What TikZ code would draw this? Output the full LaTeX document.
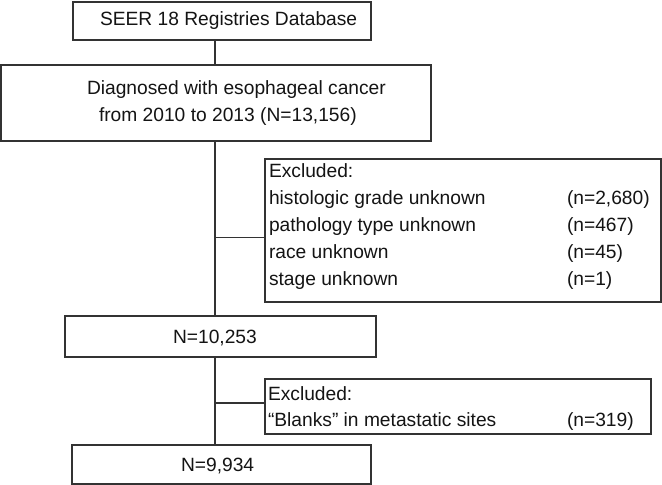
\documentclass[tikz,border=0pt]{standalone}
\usepackage{fontspec}
\setmainfont{Liberation Sans}
\definecolor{edge}{HTML}{333333}
\definecolor{ink}{HTML}{141414}
\begin{document}
\begin{tikzpicture}[x=1pt,y=-1pt,
  box/.style={draw=edge, line width=1.5pt, rectangle, inner sep=0pt, outer sep=0pt, fill=white},
  txt/.style={anchor=base west, inner sep=0pt, outer sep=0pt, text=ink, font=\fontsize{19.2}{23}\selectfont},
  link/.style={draw=edge, line width=1.5pt}]
\useasboundingbox (0,0) rectangle (662,485);
% boxes
\node[box, minimum width=298pt, minimum height=38pt] (seer) at (222,21) {};
\node[box, minimum width=430pt, minimum height=76pt] (dx) at (216,103) {};
\node[box, minimum width=396pt, minimum height=143pt] (ex1) at (463,230.5) {};
\node[box, minimum width=311pt, minimum height=41pt] (n1) at (220.5,336.5) {};
\node[box, minimum width=386pt, minimum height=55pt] (ex2) at (458,406.5) {};
\node[box, minimum width=299pt, minimum height=39pt] (n2) at (221.5,464.5) {};
% texts
\node[txt] (t0) at (100,25) {SEER 18 Registries Database};
\node[txt] (t1) at (87,94) {Diagnosed with esophageal cancer};
\node[txt] (t2) at (99,121) {from 2010 to 2013 (N=13,156)};
\node[txt] (e0) at (269,177.5) {Excluded:};
\node[txt] (e1) at (269,204.5) {histologic grade unknown};
\node[txt] (e2) at (269,231.5) {pathology type unknown};
\node[txt] (e3) at (269,258.5) {race unknown};
\node[txt] (e4) at (269,285.5) {stage unknown};
\node[txt] (c1) at (567,204.5) {(n=2,680)};
\node[txt] (c2) at (567,231.5) {(n=467)};
\node[txt] (c3) at (567,258.5) {(n=45)};
\node[txt] (c4) at (567,285.5) {(n=1)};
\node[txt] (m1) at (173,343) {N=10,253};
\node[txt] (f0) at (268,400) {Excluded:};
\node[txt] (f1) at (268,426.5) {``Blanks'' in metastatic sites};
\node[txt] (fc) at (567,426.5) {(n=319)};
\node[txt] (m2) at (181,471.5) {N=9,934};
% connectors
\coordinate (trunk) at (215,0);
\coordinate (b1) at (215,237.5);
\coordinate (b2) at (215,403);
\draw[link] (seer.south -| trunk) -- (dx.north -| trunk);
\draw[link] (dx.south -| trunk) -- (n1.north -| trunk);
\draw[link] (n1.south -| trunk) -- (n2.north -| trunk);
\draw[link] (b1) -- (b1 -| ex1.west);
\draw[link] (b2) -- (b2 -| ex2.west);
\end{tikzpicture}
\end{document}
